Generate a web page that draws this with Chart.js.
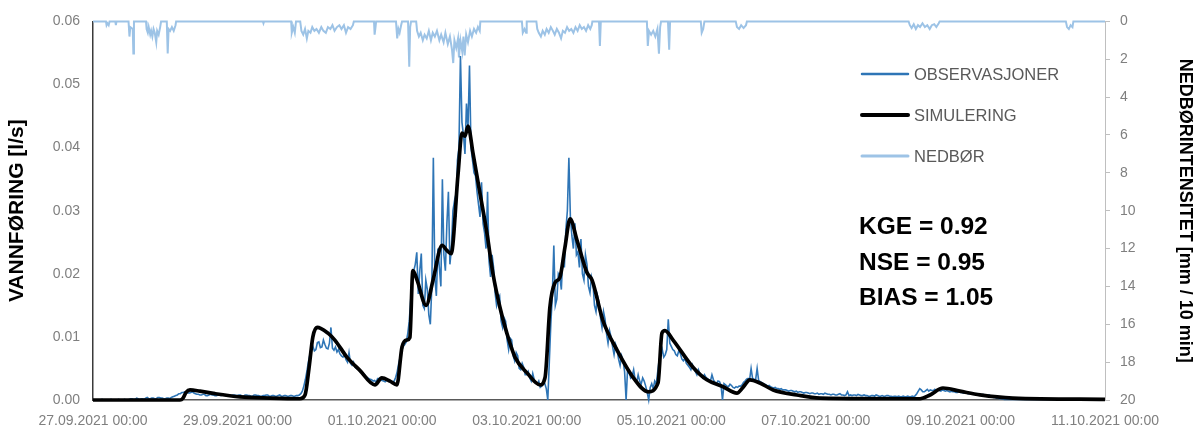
<!DOCTYPE html>
<html>
<head>
<meta charset="utf-8">
<script src="https://cdn.jsdelivr.net/npm/chart.js@4.4.1/dist/chart.umd.min.js"></script>
<style>
  html, body { margin: 0; padding: 0; background: #ffffff; }
  canvas { display: block; }
</style>
</head>
<body>
<canvas id="chart" width="1198" height="427"></canvas>
<script>
// Time axis: hours since 27.09.2021 00:00, labelled every two days
const xTickHours = [0, 48, 96, 144, 192, 240, 288, 336];
const xTickLabels = [
  '27.09.2021 00:00', '29.09.2021 00:00', '01.10.2021 00:00', '03.10.2021 00:00',
  '05.10.2021 00:00', '07.10.2021 00:00', '09.10.2021 00:00', '11.10.2021 00:00'
];

// Observed discharge [l/s], one value every 30 minutes from 27.09.2021 00:00
const obsStepHours = 0.5;
const obsValues = [
  // 27.09
  0, 0, 0, 0, 0, 0, 0.0001, 0, 0, 0, 0, 0,
  0.0001, 0, 0, 0, 0, 0.0001, 0, 0, 0, 0.0001, 0, 0,
  0.0001, 0.0002, 0.0002, 0.0001, 0.0001, 0.0003, 0.0002, 0.0001, 0.0002, 0.0002, 0.0001, 0.0003,
  0.0004, 0.0002, 0.0002, 0.0003, 0.0003, 0.0002, 0.0002, 0.0004, 0.0004, 0.0003, 0.0003, 0.0002,
  // 28.09
  0.0002, 0.0003, 0.0003, 0.0002, 0.0004, 0.0005, 0.0006, 0.0007, 0.0008, 0.0010, 0.0010, 0.0012,
  0.0012, 0.0013, 0.0013, 0.0011, 0.0011, 0.0012, 0.0013, 0.0011, 0.0010, 0.0009, 0.0009, 0.0008,
  0.0008, 0.0009, 0.0009, 0.0007, 0.0007, 0.0008, 0.0009, 0.0008, 0.0008, 0.0007, 0.0007, 0.0008,
  0.0008, 0.0007, 0.0009, 0.0008, 0.0007, 0.0008, 0.0008, 0.0007, 0.0007, 0.0008, 0.0008, 0.0007,
  // 29.09
  0.0007, 0.0008, 0.0008, 0.0006, 0.0006, 0.0008, 0.0008, 0.0007, 0.0007, 0.0006, 0.0006, 0.0008,
  0.0008, 0.0007, 0.0007, 0.0006, 0.0006, 0.0007, 0.0007, 0.0008, 0.0008, 0.0006, 0.0006, 0.0007,
  0.0007, 0.0006, 0.0006, 0.0007, 0.0008, 0.0006, 0.0006, 0.0007, 0.0007, 0.0006, 0.0006, 0.0007,
  0.0007, 0.0006, 0.0006, 0.0007, 0.0007, 0.0008, 0.0010, 0.0014, 0.0022, 0.0032, 0.0045, 0.0060,
  // 30.09
  0.0072, 0.0080, 0.0085, 0.0078, 0.0080, 0.0091, 0.0092, 0.0083, 0.0084, 0.0095, 0.0088, 0.0082,
  0.0081, 0.0090, 0.0115, 0.0082, 0.0079, 0.0084, 0.0076, 0.0080, 0.0073, 0.0070, 0.0068, 0.0072,
  0.0064, 0.0060, 0.0075, 0.0058, 0.0055, 0.0060, 0.0052, 0.0050, 0.0049, 0.0046, 0.0044, 0.0042,
  0.0041, 0.0038, 0.0036, 0.0034, 0.0033, 0.0032, 0.0030, 0.0031, 0.0028, 0.0034, 0.0034, 0.0032,
  // 01.10
  0.0031, 0.0030, 0.0029, 0.0031, 0.0032, 0.0030, 0.0028, 0.0029, 0.0030, 0.0036, 0.0045, 0.0058,
  0.0068, 0.0078, 0.0085, 0.0088, 0.0092, 0.0105, 0.0125, 0.0160, 0.0190, 0.0205, 0.0215, 0.0234,
  0.0168, 0.0205, 0.0232, 0.0150, 0.0145, 0.0190, 0.0175, 0.0135, 0.0120, 0.0180, 0.0384, 0.0195,
  0.0165, 0.0240, 0.0210, 0.0180, 0.0350, 0.0230, 0.0205, 0.0280, 0.0330, 0.0215, 0.0240, 0.0300,
  // 02.10
  0.0315, 0.0290, 0.0380, 0.0400, 0.0545, 0.0440, 0.0420, 0.0390, 0.0470, 0.0430, 0.0530, 0.0400,
  0.0380, 0.0360, 0.0355, 0.0330, 0.0310, 0.0290, 0.0345, 0.0280, 0.0265, 0.0240, 0.0330, 0.0220,
  0.0195, 0.0230, 0.0210, 0.0170, 0.0150, 0.0160, 0.0165, 0.0125, 0.0115, 0.0130, 0.0125, 0.0095,
  0.0080, 0.0098, 0.0095, 0.0070, 0.0062, 0.0075, 0.0070, 0.0050, 0.0048, 0.0058, 0.0052, 0.0040,
  // 03.10
  0.0040, 0.0045, 0.0035, 0.0030, 0.0042, 0.0032, 0.0028, 0.0025, 0.0030, 0.0020, 0.0022, 0.0030,
  0.0026, 0.0018, 0.0000, 0.0060, 0.0120, 0.0165, 0.0245, 0.0150, 0.0160, 0.0200, 0.0195, 0.0175,
  0.0230, 0.0210, 0.0270, 0.0300, 0.0384, 0.0290, 0.0260, 0.0240, 0.0280, 0.0230, 0.0235, 0.0210,
  0.0255, 0.0200, 0.0190, 0.0230, 0.0215, 0.0180, 0.0170, 0.0195, 0.0185, 0.0150, 0.0140, 0.0165,
  // 04.10
  0.0155, 0.0130, 0.0115, 0.0140, 0.0128, 0.0105, 0.0090, 0.0110, 0.0100, 0.0085, 0.0072, 0.0088,
  0.0080, 0.0065, 0.0055, 0.0070, 0.0062, 0.0045, 0.0000, 0.0050, 0.0045, 0.0035, 0.0038, 0.0048,
  0.0032, 0.0028, 0.0040, 0.0030, 0.0025, 0.0035, 0.0030, 0.0022, 0.0012, 0.0000, 0.0020, 0.0026,
  0.0018, 0.0030, 0.0025, 0.0045, 0.0065, 0.0070, 0.0080, 0.0068, 0.0072, 0.0080, 0.0128, 0.0090,
  // 05.10
  0.0085, 0.0080, 0.0078, 0.0072, 0.0070, 0.0078, 0.0074, 0.0065, 0.0062, 0.0066, 0.0058, 0.0055,
  0.0052, 0.0048, 0.0056, 0.0050, 0.0045, 0.0040, 0.0048, 0.0042, 0.0038, 0.0035, 0.0040, 0.0036,
  0.0034, 0.0032, 0.0030, 0.0040, 0.0032, 0.0028, 0.0026, 0.0030, 0.0029, 0.0024, 0.0000, 0.0026,
  0.0024, 0.0022, 0.0021, 0.0025, 0.0023, 0.0020, 0.0019, 0.0021, 0.0020, 0.0022, 0.0022, 0.0024,
  // 06.10
  0.0028, 0.0030, 0.0033, 0.0034, 0.0032, 0.0050, 0.0034, 0.0033, 0.0032, 0.0050, 0.0031, 0.0029,
  0.0028, 0.0026, 0.0025, 0.0024, 0.0022, 0.0023, 0.0021, 0.0020, 0.0019, 0.0020, 0.0018, 0.0018,
  0.0017, 0.0018, 0.0016, 0.0016, 0.0016, 0.0015, 0.0014, 0.0015, 0.0015, 0.0014, 0.0013, 0.0014,
  0.0012, 0.0013, 0.0013, 0.0012, 0.0011, 0.0012, 0.0012, 0.0011, 0.0010, 0.0011, 0.0011, 0.0010,
  // 07.10
  0.0010, 0.0011, 0.0009, 0.0010, 0.0010, 0.0009, 0.0011, 0.0010, 0.0009, 0.0009, 0.0008, 0.0009,
  0.0009, 0.0008, 0.0008, 0.0009, 0.0010, 0.0008, 0.0008, 0.0007, 0.0008, 0.0013, 0.0007, 0.0008,
  0.0007, 0.0008, 0.0008, 0.0007, 0.0009, 0.0008, 0.0007, 0.0007, 0.0008, 0.0007, 0.0007, 0.0006,
  0.0006, 0.0007, 0.0007, 0.0006, 0.0008, 0.0007, 0.0006, 0.0006, 0.0007, 0.0006, 0.0006, 0.0007,
  // 08.10
  0.0007, 0.0006, 0.0006, 0.0005, 0.0006, 0.0006, 0.0005, 0.0006, 0.0005, 0.0005, 0.0006, 0.0005,
  0.0005, 0.0006, 0.0005, 0.0005, 0.0006, 0.0005, 0.0007, 0.0010, 0.0014, 0.0018, 0.0016, 0.0013,
  0.0013, 0.0015, 0.0017, 0.0014, 0.0016, 0.0015, 0.0015, 0.0017, 0.0015, 0.0016, 0.0015, 0.0014,
  0.0016, 0.0015, 0.0014, 0.0015, 0.0014, 0.0013, 0.0014, 0.0013, 0.0013, 0.0012, 0.0012, 0.0013,
  // 09.10
  0.0012, 0.0012, 0.0011, 0.0012, 0.0011, 0.0010, 0.0010, 0.0011, 0.0010, 0.0009, 0.0009, 0.0010,
  0.0009, 0.0008, 0.0008, 0.0009, 0.0008, 0.0007, 0.0007, 0.0008, 0.0006, 0.0005, 0.0004, 0.0004,
  0.0003, 0.0003, 0.0002, 0.0002, 0.0002, 0.0001, 0.0001, 0.0001, 0.0001, 0.0001, 0.0001, 0.0001,
  0.0001, 0.0001, 0.0001, 0.0001, 0.0001, 0.0001, 0.0001, 0.0001, 0.0001, 0.0001, 0.0001, 0.0001,
  // 10.10
  0.0001, 0.0001, 0.0001, 0.0001, 0.0001, 0.0001, 0.0001, 0.0001, 0.0001, 0.0001, 0.0001, 0.0001,
  0.0001, 0.0001, 0.0001, 0.0001, 0.0001, 0.0001, 0.0001, 0.0001, 0.0001, 0.0001, 0.0001, 0.0001,
  0.0001, 0.0001, 0.0001, 0.0001, 0.0001, 0.0001, 0.0001, 0.0001, 0.0001, 0.0001, 0.0001, 0.0001,
  0.0001, 0.0001, 0.0001, 0.0001, 0.0001, 0.0001, 0.0001, 0.0001, 0.0001, 0.0001, 0.0001, 0.0001,
  // 11.10 00:00
  0.0001
];

// Simulated discharge [l/s] at hour marks
const simHours = [
  0, 28.9, 29.9, 30.9, 32.2, 35.5, 40.5, 48.8, 58.8, 68.7,
  70.4, 71.7, 73, 74.4, 78, 80.3, 84.3, 88.6, 93.6, 95.9,
  98.6, 100.9, 102.6, 104.2, 105.2, 106.2, 107.6, 110.6, 112.9, 115.9,
  117.5, 118.9, 121.2, 122.5, 123.5, 124.5, 126.2, 128.5, 130.8, 132.8,
  135.1, 137.4, 140.1, 144.1, 148.4, 150.1, 151.7, 153.4, 155, 156.7,
  158.4, 160.7, 164, 165.7, 169.3, 174, 179.3, 184.3, 187.6, 188.9,
  189.9, 192.6, 199.2, 203.8, 209.2, 213.8, 215.8, 218.1, 221.4, 225.8,
  233.7, 241.4, 274.6, 277.9, 282.2, 287.8, 294.5, 305.4, 336
];
const simValues = [
  0, 0, 0.0003, 0.0012, 0.0016, 0.0014, 0.0010, 0.0005, 0.0003, 0.0002,
  0.0008, 0.0050, 0.0100, 0.0115, 0.0106, 0.0095, 0.0068, 0.0047, 0.0024, 0.0035,
  0.0030, 0.0024, 0.0084, 0.0095, 0.0099, 0.0205, 0.0190, 0.0150, 0.0190, 0.0245,
  0.0237, 0.0232, 0.0358, 0.0423, 0.0418, 0.0434, 0.0390, 0.0327, 0.0264, 0.0200,
  0.0147, 0.0106, 0.0068, 0.0043, 0.0024, 0.0036, 0.0147, 0.0186, 0.0194, 0.0242,
  0.0287, 0.0253, 0.0202, 0.0190, 0.0126, 0.0079, 0.0036, 0.0013, 0.0027, 0.0106,
  0.0110, 0.0095, 0.0052, 0.0032, 0.0021, 0.0011, 0.0020, 0.0032, 0.0027, 0.0016,
  0.0008, 0.0003, 0.0002, 0.0008, 0.0019, 0.0014, 0.0008, 0.0003, 0.0001
];

// Precipitation intensity [mm / 10 min] as [hour, value] records
const precipRecords = [
  [0, 0], [4.3, 0], [4.5, 0.2], [4.8, 0.1], [5.2, 0.2], [5.5, 0], [7.4, 0], [7.6, 0.2], [7.8, 0],
  [11.8, 0], [12.1, 0.8], [12.4, 0.3], [13.2, 0.4], [13.4, 1.7], [13.6, 0],
  [17.6, 0], [17.8, 0.4], [18.2, 0.6], [18.5, 0.3], [19.0, 0.7], [19.3, 0.5], [19.7, 0.8], [20.1, 0.4],
  [20.5, 0.6], [21.0, 1.1], [21.3, 0.5], [21.8, 0.7], [22.3, 0.3], [22.6, 0],
  [24.5, 0], [24.8, 1.7], [25.1, 0.4], [25.6, 0.5], [26.2, 0.3], [26.8, 0.5], [27.4, 0.2], [27.6, 0],
  [56.4, 0], [56.6, 0.1], [56.8, 0],
  [65.8, 0], [66.0, 0.6], [66.5, 0.3], [67.0, 0.6], [67.4, 0],
  [68.8, 0], [69.2, 0.5], [69.8, 0.7], [70.4, 0.4], [71.0, 0.9], [71.5, 0.5], [72.2, 0.6], [72.8, 0.3],
  [73.5, 0.5], [74.2, 0.4], [75.0, 0.6], [75.8, 0.3], [76.5, 0.5], [77.3, 0.6], [78.0, 0.3], [78.8, 0.4],
  [79.5, 0.2], [80.2, 0.5], [81.0, 0.3], [81.8, 0.2], [82.5, 0.4], [83.3, 0.2], [84.0, 0.6], [84.7, 0.3],
  [85.5, 0.4], [86.3, 0.2], [86.6, 0],
  [93.3, 0], [93.5, 0.7], [93.8, 0.3], [94.0, 0],
  [100.6, 0], [101.0, 0.9], [101.4, 0.4], [101.8, 0.6], [102.3, 0.2], [102.6, 0],
  [104.6, 0], [105.0, 2.4], [105.3, 0.3], [105.6, 0],
  [107.3, 0], [107.6, 0.5], [108.2, 0.8], [108.8, 0.6], [109.5, 1.0], [110.1, 0.7], [110.8, 0.9],
  [111.5, 0.5], [112.2, 1.0], [112.8, 0.6], [113.5, 0.8], [114.2, 0.5], [115.0, 1.0], [115.6, 0.7],
  [116.4, 1.1], [117.0, 0.6], [117.8, 1.2], [118.5, 0.8], [119.2, 1.5], [119.6, 2.2], [120.0, 1.0],
  [120.6, 1.4], [121.2, 0.9], [121.5, 1.9], [122.0, 1.0], [122.6, 1.6], [123.0, 0.8], [123.4, 1.8],
  [123.9, 0.7], [124.5, 1.1], [125.2, 0.5], [125.8, 0.8], [126.5, 0.4], [127.2, 0.6], [127.8, 0.3],
  [128.4, 0.5], [128.6, 0],
  [142.4, 0], [142.7, 0.6], [143.3, 0.4], [143.8, 0.6], [144.0, 0],
  [147.2, 0], [147.5, 0.4], [148.0, 0.6], [148.7, 0.8], [149.3, 0.5], [150.0, 0.7], [150.6, 0.4],
  [151.3, 0.6], [152.0, 0.3], [152.7, 0.5], [153.3, 0.7], [154.0, 0.4], [154.7, 0.6], [155.4, 0.9],
  [156.0, 0.5], [156.7, 0.6], [157.4, 0.3], [158.1, 0.5], [158.8, 0.4], [159.5, 0.6], [160.2, 0.3],
  [160.9, 0.5], [161.6, 0.2], [162.3, 0.4], [163.0, 0.3], [163.7, 0.5], [164.4, 0.2], [165.1, 0.4],
  [165.6, 0.2], [165.8, 0], [168.0, 0], [168.3, 1.3], [168.6, 0],
  [183.9, 0], [184.2, 1.3], [184.6, 0.5], [185.3, 0.7], [186.0, 0.5], [186.7, 0.8], [187.4, 0.4],
  [187.9, 1.7], [188.3, 0.3], [188.6, 0], [190.9, 0], [191.3, 1.5], [191.6, 0],
  [201.8, 0], [202.1, 0.6], [202.6, 0.4], [203.0, 0],
  [213.4, 0], [213.8, 0.3], [214.5, 0.4], [215.2, 0.2], [216.0, 0.35], [216.8, 0.2], [217.1, 0],
  [270.8, 0], [271.2, 0.2], [271.8, 0.35], [272.5, 0.15], [273.2, 0.4], [273.9, 0.2], [274.6, 0.3],
  [275.4, 0.1], [276.2, 0.3], [277.0, 0.2], [277.8, 0.4], [278.5, 0.2], [279.3, 0.15], [280.0, 0.3],
  [280.8, 0.1], [281.1, 0],
  [323.0, 0], [323.4, 0.3], [324.0, 0.4], [324.6, 0.2], [325.2, 0.3], [325.5, 0],
  [336, 0]
];

const legendLabels = ['OBSERVASJONER', 'SIMULERING', 'NEDBØR'];
const statLines = ['KGE = 0.92', 'NSE = 0.95', 'BIAS = 1.05'];

const FONT = "'Liberation Sans', Arial, sans-serif";
const TICK_COLOR = '#7f7f7f';
const OBS_COLOR = '#2E75B6';
const SIM_COLOR = '#000000';
const RAIN_COLOR = '#9DC3E6';

// Legend and goodness-of-fit figures inside the plot area
const overlayPlugin = {
  id: 'overlay',
  afterDraw(chart) {
    const ctx = chart.ctx;
    ctx.save();
    const legendStyles = [
      { color: OBS_COLOR, width: 2.5 },
      { color: SIM_COLOR, width: 4 },
      { color: RAIN_COLOR, width: 3 }
    ];
    const legendY = [74, 115, 156];
    ctx.font = '16.5px ' + FONT;
    ctx.textBaseline = 'middle';
    ctx.textAlign = 'left';
    legendLabels.forEach((label, i) => {
      ctx.beginPath();
      ctx.strokeStyle = legendStyles[i].color;
      ctx.lineWidth = legendStyles[i].width;
      ctx.lineCap = 'round';
      ctx.moveTo(862, legendY[i]);
      ctx.lineTo(908, legendY[i]);
      ctx.stroke();
      ctx.fillStyle = '#595959';
      ctx.fillText(label, 914, legendY[i] + 1);
    });
    const statY = [227, 263, 298];
    ctx.font = 'bold 24.5px ' + FONT;
    ctx.fillStyle = '#000000';
    statLines.forEach((line, i) => ctx.fillText(line, 859, statY[i]));
    ctx.restore();
  }
};

const ctx = document.getElementById('chart').getContext('2d');
new Chart(ctx, {
  type: 'line',
  data: {
    datasets: [
      {
        label: 'SIMULERING',
        data: simHours.map((h, i) => ({ x: h, y: simValues[i] })),
        borderColor: SIM_COLOR,
        borderWidth: 3.7,
        pointRadius: 0,
        cubicInterpolationMode: 'monotone',
        yAxisID: 'y',
        clip: 6
      },
      {
        label: 'OBSERVASJONER',
        data: obsValues.map((v, i) => ({ x: i * obsStepHours, y: v })),
        borderColor: OBS_COLOR,
        borderWidth: 1.6,
        pointRadius: 0,
        tension: 0,
        yAxisID: 'y',
        clip: 6
      },
      {
        label: 'NEDBØR',
        data: precipRecords.map(r => ({ x: r[0], y: r[1] })),
        borderColor: RAIN_COLOR,
        borderWidth: 2,
        pointRadius: 0,
        tension: 0,
        yAxisID: 'y2',
        clip: 6
      }
    ]
  },
  options: {
    responsive: false,
    animation: false,
    layout: { padding: { top: 20, left: 0, right: 0, bottom: 0 } },
    plugins: { legend: { display: false }, tooltip: { enabled: false } },
    scales: {
      x: {
        type: 'linear',
        min: 0,
        max: 336,
        afterBuildTicks: scale => { scale.ticks = xTickHours.map(v => ({ value: v })); },
        ticks: {
          autoSkip: false,
          maxRotation: 0,
          color: TICK_COLOR,
          font: { family: FONT, size: 14 },
          padding: 13,
          callback: v => xTickLabels[xTickHours.indexOf(v)]
        },
        grid: { display: false, drawTicks: false },
        border: { display: true, color: '#595959', width: 1.5 },
        afterFit: scale => { scale.height = 27; }
      },
      y: {
        position: 'left',
        min: 0,
        max: 0.06,
        ticks: {
          stepSize: 0.01,
          color: TICK_COLOR,
          font: { family: FONT, size: 14 },
          padding: 13,
          callback: v => v.toFixed(2)
        },
        grid: { display: false, drawTicks: false },
        border: { display: true, color: '#3a3a3a', width: 1.5 },
        title: {
          display: true,
          text: 'VANNFØRING [l/s]',
          color: '#000000',
          font: { family: FONT, size: 21, weight: 'bold' },
          padding: { top: 5, bottom: 0 }
        },
        afterFit: scale => { scale.width = 93; }
      },
      y2: {
        position: 'right',
        reverse: true,
        min: 0,
        max: 20,
        ticks: {
          stepSize: 2,
          color: TICK_COLOR,
          font: { family: FONT, size: 14 },
          padding: 10
        },
        grid: { drawOnChartArea: false, drawTicks: true, tickLength: 5, color: '#bfbfbf' },
        border: { display: true, color: '#bfbfbf', width: 1 },
        title: {
          display: true,
          text: 'NEDBØRINTENSITET [mm / 10 min]',
          color: '#000000',
          font: { family: FONT, size: 18, weight: 'bold' },
          padding: { top: 2, bottom: 0 }
        },
        afterFit: scale => { scale.width = 93; }
      }
    }
  },
  plugins: [overlayPlugin]
});
</script>
</body>
</html>
